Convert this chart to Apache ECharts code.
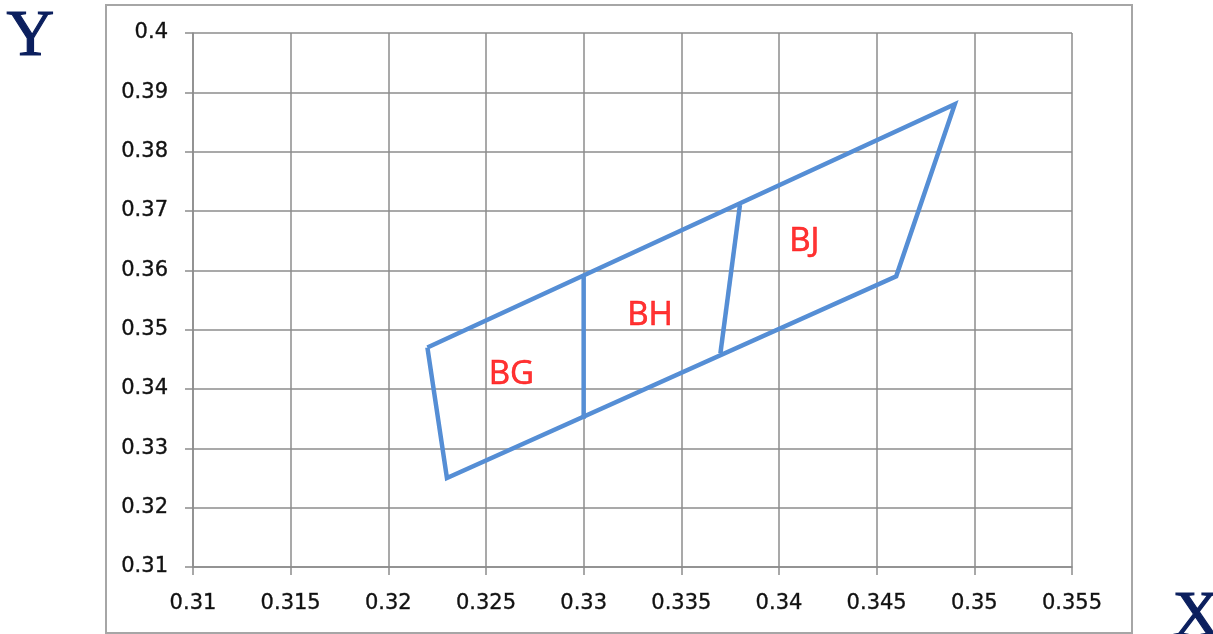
<!DOCTYPE html>
<html>
<head>
<meta charset="utf-8">
<script src="https://cdn.jsdelivr.net/npm/echarts@6/dist/echarts.min.js"></script>
<style>
html,body{margin:0;padding:0;background:#fff;}
#c{width:1213px;height:634px;}
</style>
</head>
<body>
<div id="c"></div>
<script>
// Data
const outlinePoints = [[0.322,0.347],[0.349,0.388],[0.346,0.359],[0.323,0.325],[0.322,0.347]];
const dividerBG_BH = [[0.330,0.359],[0.330,0.335]];
const dividerBH_BJ = [[0.338,0.371],[0.337,0.346]];
const regionLabels = ['BG','BH','BJ'];
const regionLabelX = [0.3263,0.3334,0.3413];
const regionLabelY = [0.3424,0.3523,0.3648];
const xTickLabels = ['0.31','0.315','0.32','0.325','0.33','0.335','0.34','0.345','0.35','0.355'];
const yTickLabels = ['0.31','0.32','0.33','0.34','0.35','0.36','0.37','0.38','0.39','0.4'];
const xAxisTitle = 'X';
const yAxisTitle = 'Y';

const blue = '#558ED5';
const gridColor = '#8c8c8c';
const labelFont = '"DejaVu Sans", sans-serif';

const chart = echarts.init(document.getElementById('c'), null, {renderer:'canvas'});
const xMin = 0.31, xStep = 0.005, yMin = 0.31, yStep = 0.01;
const option = {
  animation:false,
  backgroundColor:'#fff',
  grid:{left:193,right:141,top:33,bottom:67,containLabel:false},
  xAxis:{
    type:'value',min:xMin,max:0.355,interval:xStep,
    axisLine:{show:true,onZero:false,lineStyle:{color:gridColor,width:1.5}},
    axisTick:{show:true,length:8,lineStyle:{color:gridColor,width:1.5}},
    splitLine:{show:true,lineStyle:{color:gridColor,width:1.5}},
    axisLabel:{margin:26,color:'#111',fontFamily:labelFont,fontSize:21,
      textBorderColor:'#333',textBorderWidth:0.4,
      formatter:v=>xTickLabels[Math.round((v-xMin)/xStep)]}
  },
  yAxis:{
    type:'value',min:yMin,max:0.4,interval:yStep,
    axisLine:{show:true,onZero:false,lineStyle:{color:gridColor,width:1.5}},
    axisTick:{show:true,length:8,lineStyle:{color:gridColor,width:1.5}},
    splitLine:{show:true,lineStyle:{color:gridColor,width:1.5}},
    axisLabel:{margin:25,color:'#111',fontFamily:labelFont,fontSize:21,
      textBorderColor:'#333',textBorderWidth:0.4,
      formatter:v=>yTickLabels[Math.round((v-yMin)/yStep)]}
  },
  graphic:[
    {type:'rect',shape:{x:106,y:5,width:1026,height:628},style:{fill:null,stroke:'#a6a6a6',lineWidth:2},z:-1,silent:true},
    {type:'text',left:6,top:4,style:{text:yAxisTitle,font:'66px "Liberation Serif", serif',fill:'#0b1f5e',stroke:'#0b1f5e',lineWidth:1.2}},
    {type:'text',left:1172,top:585,style:{text:xAxisTitle,font:'66px "Liberation Serif", serif',fill:'#0b1f5e',stroke:'#0b1f5e',lineWidth:1.2}}
  ],
  series:[
    {type:'line',data:outlinePoints,symbol:'none',lineStyle:{color:blue,width:4.5,join:'miter'},z:3},
    {type:'line',data:dividerBG_BH,symbol:'none',lineStyle:{color:blue,width:4.5},z:3},
    {type:'line',data:dividerBH_BJ,symbol:'none',lineStyle:{color:blue,width:4.5},z:3},
    {type:'scatter',symbolSize:0,z:4,
      data:regionLabels.map((n,i)=>({name:n,value:[regionLabelX[i],regionLabelY[i]]})),
      label:{show:true,position:'inside',formatter:p=>p.name,color:'#ff0000',fontSize:33,
        textBorderColor:'#ff0000',textBorderWidth:0.6,fontFamily:'"Open Sans", sans-serif'}}
  ]
};
chart.setOption(option);
</script>
</body>
</html>
